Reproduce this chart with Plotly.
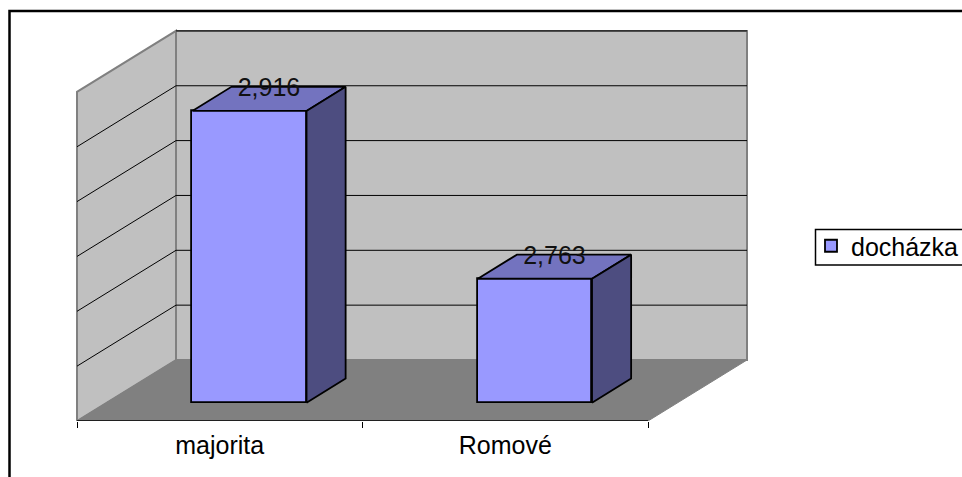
import plotly.graph_objects as go

categories = ["majorita", "Romové"]
values = [2.916, 2.763]
labels = ["2,916", "2,763"]
series_name = "docházka"
grid_values = [2.70, 2.75, 2.80, 2.85, 2.90, 2.95]

FLOOR, TOP = 2.65, 2.95
W, H = 962, 477
L, R, T, B = 60, 760, 20, 421          # plot area in pixels
PX_X = 285.5                           # pixels per category
PX_Y = 1097.0                          # pixels per value unit
DX = 99 / PX_X                         # depth shift along x
DY = 61 / PX_Y                         # depth shift along y
X0 = -(77 - L) / PX_X
X1 = X0 + (R - L) / PX_X
BAR_INSET, BAR_W = 0.2999, 0.40
D_FRONT, D_BACK = 0.300, 0.695
FONT = "Liberation Sans, Arial, sans-serif"
FS = 25


def pr(x, v, d):
    return x + d * DX, v + d * DY


def path(pts):
    return "M " + " L ".join(f"{a},{b}" for a, b in pts) + " Z"


def poly(corners):
    return [pr(*c) for c in corners]


def paper_x(px):
    return (px - L) / (R - L)


def paper_y(px):
    return (B - px) / (B - T)


shapes = []
# back wall, side wall, floor
shapes.append(dict(type="path", layer="below", xref="x", yref="y", fillcolor="#C0C0C0",
                   line=dict(color="#808080", width=2),
                   path=path(poly([(0, FLOOR, 1), (2, FLOOR, 1), (2, TOP, 1), (0, TOP, 1)]))))
shapes.append(dict(type="path", layer="below", xref="x", yref="y", fillcolor="#C0C0C0",
                   line=dict(color="#808080", width=2),
                   path=path(poly([(0, FLOOR, 0), (0, FLOOR, 1), (0, TOP, 1), (0, TOP, 0)]))))
shapes.append(dict(type="path", layer="below", xref="x", yref="y", fillcolor="#808080",
                   line=dict(color="#808080", width=1),
                   path=path(poly([(0, FLOOR, 0), (2, FLOOR, 0), (2, FLOOR, 1), (0, FLOOR, 1)]))))
# gridlines across the walls
for g in grid_values:
    a = pr(0, g, 0)
    b = pr(0, g, 1)
    c = pr(2, g, 1)
    if g != TOP:
        shapes.append(dict(type="line", layer="below", xref="x", yref="y",
                           x0=a[0], y0=a[1], x1=b[0], y1=b[1],
                           line=dict(color="black", width=1)))
    shapes.append(dict(type="line", layer="below", xref="x", yref="y",
                       x0=b[0], y0=b[1], x1=c[0], y1=c[1],
                       line=dict(color="black", width=1)))
# outer chart frame (left and top edges)
shapes.append(dict(type="path", xref="paper", yref="paper",
                   line=dict(color="black", width=2.5),
                   path=f"M {paper_x(9.5)},{paper_y(H)} L {paper_x(9.5)},{paper_y(11)} L {paper_x(W)},{paper_y(11)}"))
# legend frame
shapes.append(dict(type="path", xref="paper", yref="paper",
                   line=dict(color="black", width=1.5),
                   path=f"M {paper_x(W)},{paper_y(229.5)} L {paper_x(815.5)},{paper_y(229.5)} "
                        f"L {paper_x(815.5)},{paper_y(265)} L {paper_x(W)},{paper_y(265)}"))

fig = go.Figure()

# front faces
n = range(len(values))
fig.add_trace(go.Bar(
    x=[i + BAR_INSET + BAR_W / 2 + D_FRONT * DX for i in n],
    y=[v - FLOOR for v in values],
    base=[FLOOR + D_FRONT * DY] * len(values),
    width=BAR_W,
    name=series_name,
    marker=dict(color="#9999FF", line=dict(color="black", width=1.8)),
    hoverinfo="skip",
))

# top and side faces, labels
for i, v in enumerate(values):
    xl, xr = i + BAR_INSET, i + BAR_INSET + BAR_W
    for corners, color in (
        ([(xl, v, D_FRONT), (xr, v, D_FRONT), (xr, v, D_BACK), (xl, v, D_BACK)], "#7373BF"),
        ([(xr, FLOOR, D_FRONT), (xr, FLOOR, D_BACK), (xr, v, D_BACK), (xr, v, D_FRONT)], "#4D4D80"),
    ):
        p = poly(corners)
        p.append(p[0])
        fig.add_trace(go.Scatter(
            x=[a for a, _ in p], y=[b for _, b in p], mode="lines", fill="toself",
            fillcolor=color, line=dict(color="black", width=1.8),
            showlegend=False, hoverinfo="skip",
        ))

label_pts = [pr(i + BAR_INSET + BAR_W / 2, v, (D_FRONT + D_BACK) / 2) for i, v in enumerate(values)]
fig.add_trace(go.Scatter(
    x=[a for a, _ in label_pts], y=[b + 9 / PX_Y for _, b in label_pts],
    mode="text", text=labels, textposition="middle center",
    textfont=dict(family=FONT, size=FS, color="#111111"),
    showlegend=False, hoverinfo="skip",
))

# category axis baseline
fig.add_trace(go.Scatter(
    x=[0, len(categories)], y=[FLOOR, FLOOR], mode="lines",
    line=dict(color="black", width=1.5), cliponaxis=False,
    showlegend=False, hoverinfo="skip",
))

fig.update_layout(
    width=W, height=H,
    margin=dict(l=L, r=W - R, t=T, b=H - B, autoexpand=False),
    paper_bgcolor="white", plot_bgcolor="rgba(0,0,0,0)",
    shapes=shapes, bargap=0,
    font=dict(family=FONT, size=FS, color="black"),
    showlegend=True,
    legend=dict(
        x=paper_x(811), y=paper_y(223), xanchor="left", yanchor="top",
        borderwidth=0, bgcolor="rgba(0,0,0,0)",
        font=dict(family=FONT, size=FS, color="black"),
    ),
    xaxis=dict(
        range=[X0, X1], showgrid=False, zeroline=False, showline=False,
        tickmode="array", tickvals=[i + 0.5 for i in n], ticktext=categories,
        ticks="", ticklabelstandoff=7,
        minor=dict(tick0=0, dtick=1, ticks="outside", ticklen=6, tickcolor="black", tickwidth=1, showgrid=False),
    ),
    yaxis=dict(
        range=[FLOOR, FLOOR + (B - T) / PX_Y], showgrid=False, zeroline=False,
        showticklabels=False, ticks="", showline=False,
    ),
)

fig.write_html(
    "out.html",
    config=dict(displayModeBar=False),
    post_script="document.body.style.margin='0';document.documentElement.style.overflow='hidden';",
)
